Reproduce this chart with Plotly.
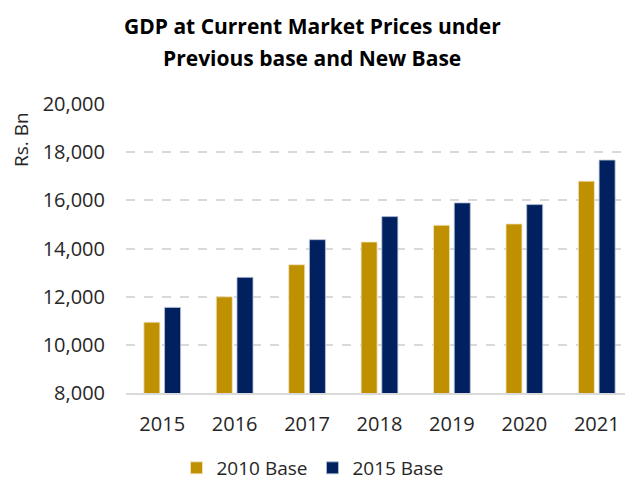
import plotly.graph_objects as go

years = ["2015", "2016", "2017", "2018", "2019", "2020", "2021"]
base_2010 = [10942, 11995, 13327, 14271, 14966, 15020, 16797]
base_2015 = [11554, 12802, 14367, 15324, 15894, 15823, 17671]
series_names = ["2010 Base", "2015 Base"]
y_ticks = [8000, 10000, 12000, 14000, 16000, 18000, 20000]
title_lines = ["GDP at Current Market Prices under", "Previous base and New Base"]

FONT = "Open Sans"
PLOT_H = 289
PLOT_W = 499
fig = go.Figure()
fig.add_trace(go.Bar(x=years, y=base_2010, name=series_names[0],
                     marker=dict(color="#BF9000", line=dict(color="#f2e6c8", width=0.8))))
fig.add_trace(go.Bar(x=years, y=base_2015, name=series_names[1],
                     marker=dict(color="#002060", line=dict(color="#b8c2d6", width=0.8))))

fig.update_layout(
    width=625, height=482,
    margin=dict(l=126, r=0, t=104, b=89, autoexpand=False),
    paper_bgcolor="white", plot_bgcolor="white",
    barmode="group", bargap=0.428, bargroupgap=0.227,
    font=dict(family=FONT, color="#262626", size=20),
    showlegend=True,
    legend=dict(orientation="h", x=0.5, xref="container", xanchor="center",
                y=1 - 468 / 482, yref="container", yanchor="middle",
                font=dict(size=19), traceorder="normal"),
)
fig.update_xaxes(range=[-0.5, 6.39], showline=True, linecolor="#d9d9d9", linewidth=2,
                 ticks="", showgrid=False, tickfont=dict(size=20), ticklabelstandoff=12)
fig.update_yaxes(range=[8000, 20000], tickvals=y_ticks, tickformat=",",
                 showgrid=True, gridcolor="#d9d9d9", griddash="dash", gridwidth=1.5,
                 zeroline=False, showline=False, ticks="", tickfont=dict(size=20),
                 ticklabelstandoff=20)
for line, yc in zip(title_lines, [26, 58]):
    fig.add_annotation(text="<b>" + line + "</b>", xref="paper", yref="paper",
                       x=(312 - 126) / PLOT_W, y=(393 - yc) / PLOT_H,
                       xanchor="center", yanchor="middle", showarrow=False,
                       font=dict(size=21, family=FONT, color="black"))
fig.add_annotation(text="Rs. Bn", textangle=-90, xref="paper", yref="paper",
                   x=-(126 - 21) / PLOT_W, y=(393 - 140) / PLOT_H,
                   xanchor="center", yanchor="middle", showarrow=False,
                   font=dict(size=19, family=FONT, color="#262626"))
fig.write_html("out.html", config={"displayModeBar": False},
               post_script="document.body.style.margin='0';")
